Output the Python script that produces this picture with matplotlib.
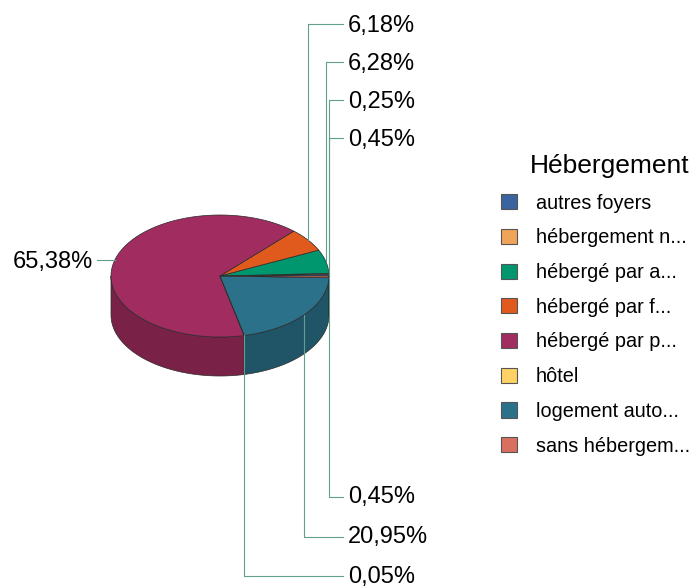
import numpy as np
import matplotlib
matplotlib.use("Agg")
import matplotlib.pyplot as plt
from matplotlib.patches import Polygon, Patch
from matplotlib.colors import to_rgb

plt.rcParams['font.family'] = ['Liberation Sans', 'DejaVu Sans']

# données
categories = ['autres foyers', 'hébergement n...', 'hébergé par a...', 'hébergé par f...',
              'hébergé par p...', 'hôtel', 'logement auto...', 'sans hébergem...']
values = [0.45, 0.25, 6.28, 6.18, 65.38, 0.05, 20.95, 0.45]
colors = ['#3a64a0', '#f0a45a', '#00976f', '#e05a1e', '#a12c5f', '#ffd265', '#2a7189', '#d9705f']

W, H = 698, 586
fig = plt.figure(figsize=(W / 100, H / 100), dpi=100)
ax = fig.add_axes([0, 0, 1, 1])
ax.set_xlim(0, W)
ax.set_ylim(H, 0)
ax.axis('off')

cx, cy, rx, ry, depth = 220, 276, 109, 61, 39
line_col = '#5f9f8b'
edge_col = '#2b2b2b'


def rim(t):
    t = np.radians(t)
    return cx + rx * np.cos(t), cy - ry * np.sin(t)


def darker(c, f=0.75):
    r, g, b = to_rgb(c)
    return (r * f, g * f, b * f)


vals = np.array(values)
bounds = np.concatenate([[0], np.cumsum(vals) / vals.sum() * 360])

# côtés (partie avant visible : 180 -> 360 degrés)
for i, col in enumerate(colors):
    a0, a1 = max(bounds[i], 180), min(bounds[i + 1], 360)
    if a1 <= a0:
        continue
    t = np.linspace(a0, a1, 60)
    xs, ys = rim(t)
    pts = list(zip(xs, ys)) + list(zip(xs[::-1], ys[::-1] + depth))
    ax.add_patch(Polygon(pts, closed=True, facecolor=darker(col), edgecolor=edge_col, lw=0.5))

# dessus
for i, col in enumerate(colors):
    t = np.linspace(bounds[i], bounds[i + 1], max(int((bounds[i + 1] - bounds[i]) * 2), 3))
    xs, ys = rim(t)
    pts = [(cx, cy)] + list(zip(xs, ys))
    ax.add_patch(Polygon(pts, closed=True, facecolor=col, edgecolor=edge_col, lw=0.5))

# étiquettes avec lignes de rappel
mids = (bounds[:-1] + bounds[1:]) / 2
labels = [f"{v:.2f}%".replace('.', ',') for v in values]
top = sorted([i for i in range(len(values)) if 0 <= mids[i] < 90], key=lambda i: -mids[i])
bottom = sorted([i for i in range(len(values)) if 270 <= mids[i] < 360], key=lambda i: -mids[i])
left = [i for i in range(len(values)) if 90 <= mids[i] < 270]

fs = 17
for k, i in enumerate(top):
    x0, y0 = rim(mids[i])
    yl = 24 + 38 * k
    ax.plot([x0, x0, 343], [y0, yl, yl], color=line_col, lw=0.8)
    ax.text(348, yl + 2, labels[i], fontsize=fs, va='center', ha='left')
for k, i in enumerate(bottom):
    x0, y0 = rim(mids[i])
    yl = 497 + 39.5 * k
    ax.plot([x0, x0, 343], [y0, yl, yl], color=line_col, lw=0.8)
    ax.text(348, yl + 0.5, labels[i], fontsize=fs, va='center', ha='left')
for i in left:
    x0, y0 = rim(mids[i])
    ax.plot([x0, 97], [y0, y0], color=line_col, lw=0.8)
    ax.text(93, y0 + 1.5, labels[i], fontsize=fs, va='center', ha='right')

handles = [Patch(facecolor=c, edgecolor='#555555', lw=0.8) for c in colors]
fig.legend(handles, categories, title='Hébergement', loc='upper left',
           bbox_to_anchor=(501 / W, 1 - 154 / H), frameon=False, fontsize=14.3,
           title_fontsize=19, handlelength=0.8, handleheight=0.8,
           handletextpad=0.95, labelspacing=0.79, borderpad=0, borderaxespad=0,
           alignment='right')

fig.savefig('out.png', dpi=100)
